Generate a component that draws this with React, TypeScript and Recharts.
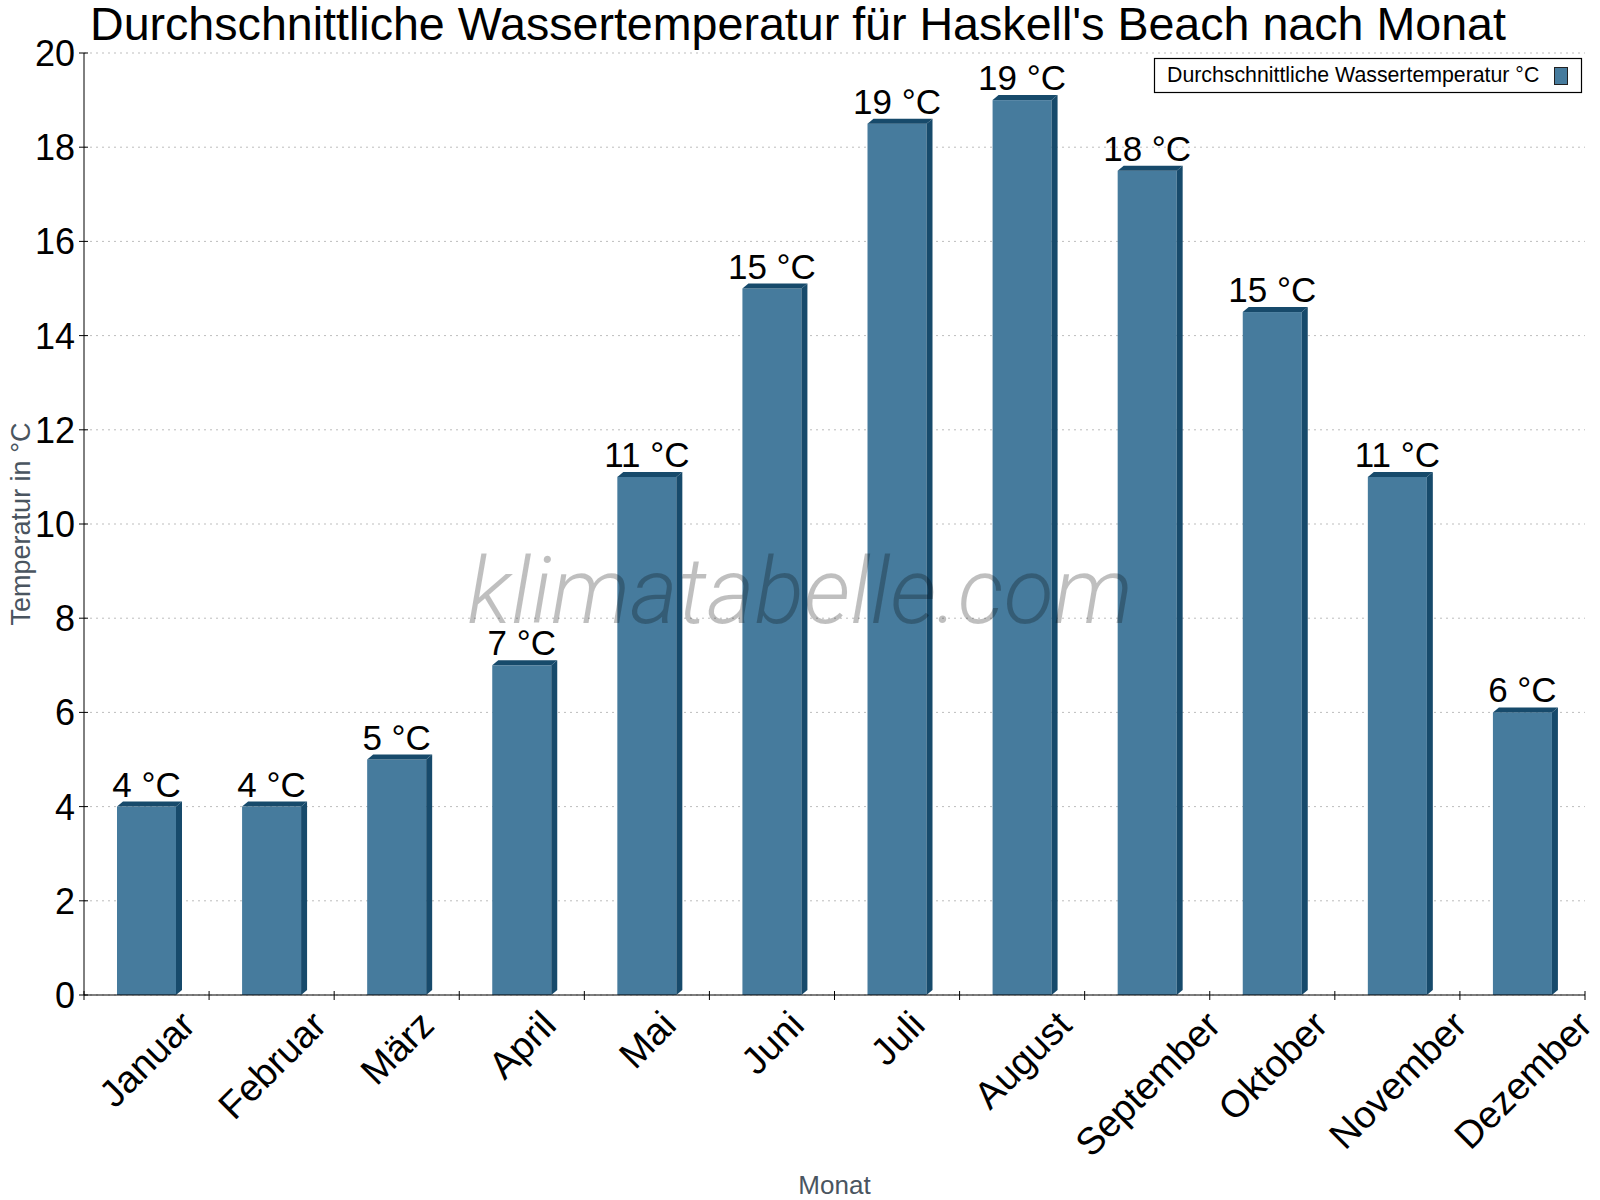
import { BarChart, Bar, XAxis, YAxis, CartesianGrid, LabelList } from 'recharts';

const months = [
  'Januar', 'Februar', 'März', 'April', 'Mai', 'Juni',
  'Juli', 'August', 'September', 'Oktober', 'November', 'Dezember',
];
const waterTemp = [4, 4, 5, 7, 11, 15, 18.5, 19, 17.5, 14.5, 11, 6];
const yTicks = [0, 2, 4, 6, 8, 10, 12, 14, 16, 18, 20];

const data = months.map((month, i) => ({ month, temp: waterTemp[i] }));

const W = 1600;
const H = 1200;
const TOP = 53;
const RIGHT = 15;
const Y_AXIS_W = 84;
const X_AXIS_H = 205;
const PLOT_LEFT = Y_AXIS_W;
const PLOT_BOTTOM = H - X_AXIS_H;
const FONT = '"Liberation Sans", Arial, sans-serif';
const FRONT = '#467b9d';
const DARK = '#174a6b';
const X_FS = 38;

let ctx: CanvasRenderingContext2D | null = null;
function textWidth(s: string, font: string) {
  if (!ctx) ctx = document.createElement('canvas').getContext('2d');
  if (!ctx) return s.length * 20;
  ctx.font = font;
  return ctx.measureText(s).width;
}

// bar with a dark top and right face, like the old 3D look
const Bar3D = (props: any) => {
  const { x, y, width, height } = props;
  if (!height) return null;
  const dx = 6;
  const dy = 5;
  return (
    <g>
      <rect x={x} y={y} width={width} height={height} fill={FRONT} />
      <polygon
        points={`${x},${y} ${x + dx},${y - dy} ${x + width + dx},${y - dy} ${x + width},${y}`}
        fill={DARK}
      />
      <polygon
        points={`${x + width},${y} ${x + width + dx},${y - dy} ${x + width + dx},${y + height - dy} ${x + width},${y + height}`}
        fill={DARK}
      />
    </g>
  );
};

const XTick = (props: any) => {
  const { x, payload, index } = props;
  const half = payload.offset || 62.5;
  const L = textWidth(String(payload.value), `${X_FS}px "Liberation Sans"`);
  const capH = 0.72 * X_FS;
  const ax = x + 0.3536 * (L + capH);
  const ay = 1008 + 0.707 * capH;
  return (
    <g>
      <line x1={x - half} x2={x - half} y1={PLOT_BOTTOM - 4} y2={PLOT_BOTTOM + 5} stroke="#000" />
      {index === months.length - 1 && (
        <line x1={x + half} x2={x + half} y1={PLOT_BOTTOM - 4} y2={PLOT_BOTTOM + 5} stroke="#000" />
      )}
      <text
        x={ax}
        y={ay}
        textAnchor="end"
        fontSize={X_FS}
        fill="#000"
        transform={`rotate(-45 ${ax} ${ay})`}
      >
        {payload.value}
      </text>
    </g>
  );
};

const YTick = (props: any) => {
  const { y, payload } = props;
  return (
    <g>
      <line x1={PLOT_LEFT - 5} x2={PLOT_LEFT + 4} y1={y} y2={y} stroke="#000" />
      <text x={PLOT_LEFT - 9} y={y} dy="0.36em" textAnchor="end" fontSize={36} fill="#000">
        {payload.value}
      </text>
    </g>
  );
};

export default function App() {
  return (
    <div style={{ position: 'absolute', left: 0, top: 0, width: W, height: H, fontFamily: FONT, background: '#fff' }}>
      <BarChart
        width={W}
        height={H}
        data={data}
        margin={{ top: TOP, right: RIGHT, bottom: 0, left: 0 }}
      >
        <CartesianGrid vertical={false} stroke="#bdbdbd" strokeDasharray="2 4" />
        <XAxis
          dataKey="month"
          height={X_AXIS_H}
          interval={0}
          tickLine={false}
          axisLine={{ stroke: '#000' }}
          tick={<XTick />}
        />
        <YAxis
          width={Y_AXIS_W}
          domain={[0, 20]}
          ticks={yTicks}
          tickLine={false}
          axisLine={{ stroke: '#000' }}
          tick={<YTick />}
        />
        <YAxis
          yAxisId="right"
          orientation="right"
          width={0}
          domain={[0, 20]}
          tick={false}
          tickLine={false}
          axisLine={{ stroke: '#000' }}
        />
        <Bar dataKey="temp" barSize={59} shape={<Bar3D />} isAnimationActive={false}>
          <LabelList
            dataKey="temp"
            position="top"
            offset={10}
            fontSize={35}
            fill="#000"
            formatter={(v: any) => `${Math.round(Number(v))} °C`}
          />
        </Bar>
      </BarChart>
      <svg
        width={W}
        height={H}
        style={{ position: 'absolute', left: 0, top: 0, pointerEvents: 'none', fontFamily: FONT }}
      >
        <text x={90} y={40} fontSize={46.6} fill="#000">
          Durchschnittliche Wassertemperatur für Haskell's Beach nach Monat
        </text>
        <text
          x={800}
          y={623}
          textAnchor="middle"
          fontSize={92}
          fontStyle="italic"
          fontWeight={300}
          fontFamily="Roboto, sans-serif"
          fill="#000"
          fillOpacity={0.25}
        >
          klimatabelle.com
        </text>
        <rect x={1154.5} y={58.5} width={427} height={34} fill="#fff" stroke="#000" strokeWidth={1.2} />
        <text x={1167} y={82} fontSize={21.3} fill="#000">
          Durchschnittliche Wassertemperatur °C
        </text>
        <rect x={1554.5} y={67.5} width={13} height={17} fill={FRONT} stroke="#222" />
        <text x={834.5} y={1194} textAnchor="middle" fontSize={26} fill="#4a5560">
          Monat
        </text>
        <text
          x={30}
          y={524}
          textAnchor="middle"
          fontSize={27}
          fill="#4a5560"
          transform="rotate(-90 30 524)"
        >
          Temperatur in °C
        </text>
      </svg>
    </div>
  );
}
